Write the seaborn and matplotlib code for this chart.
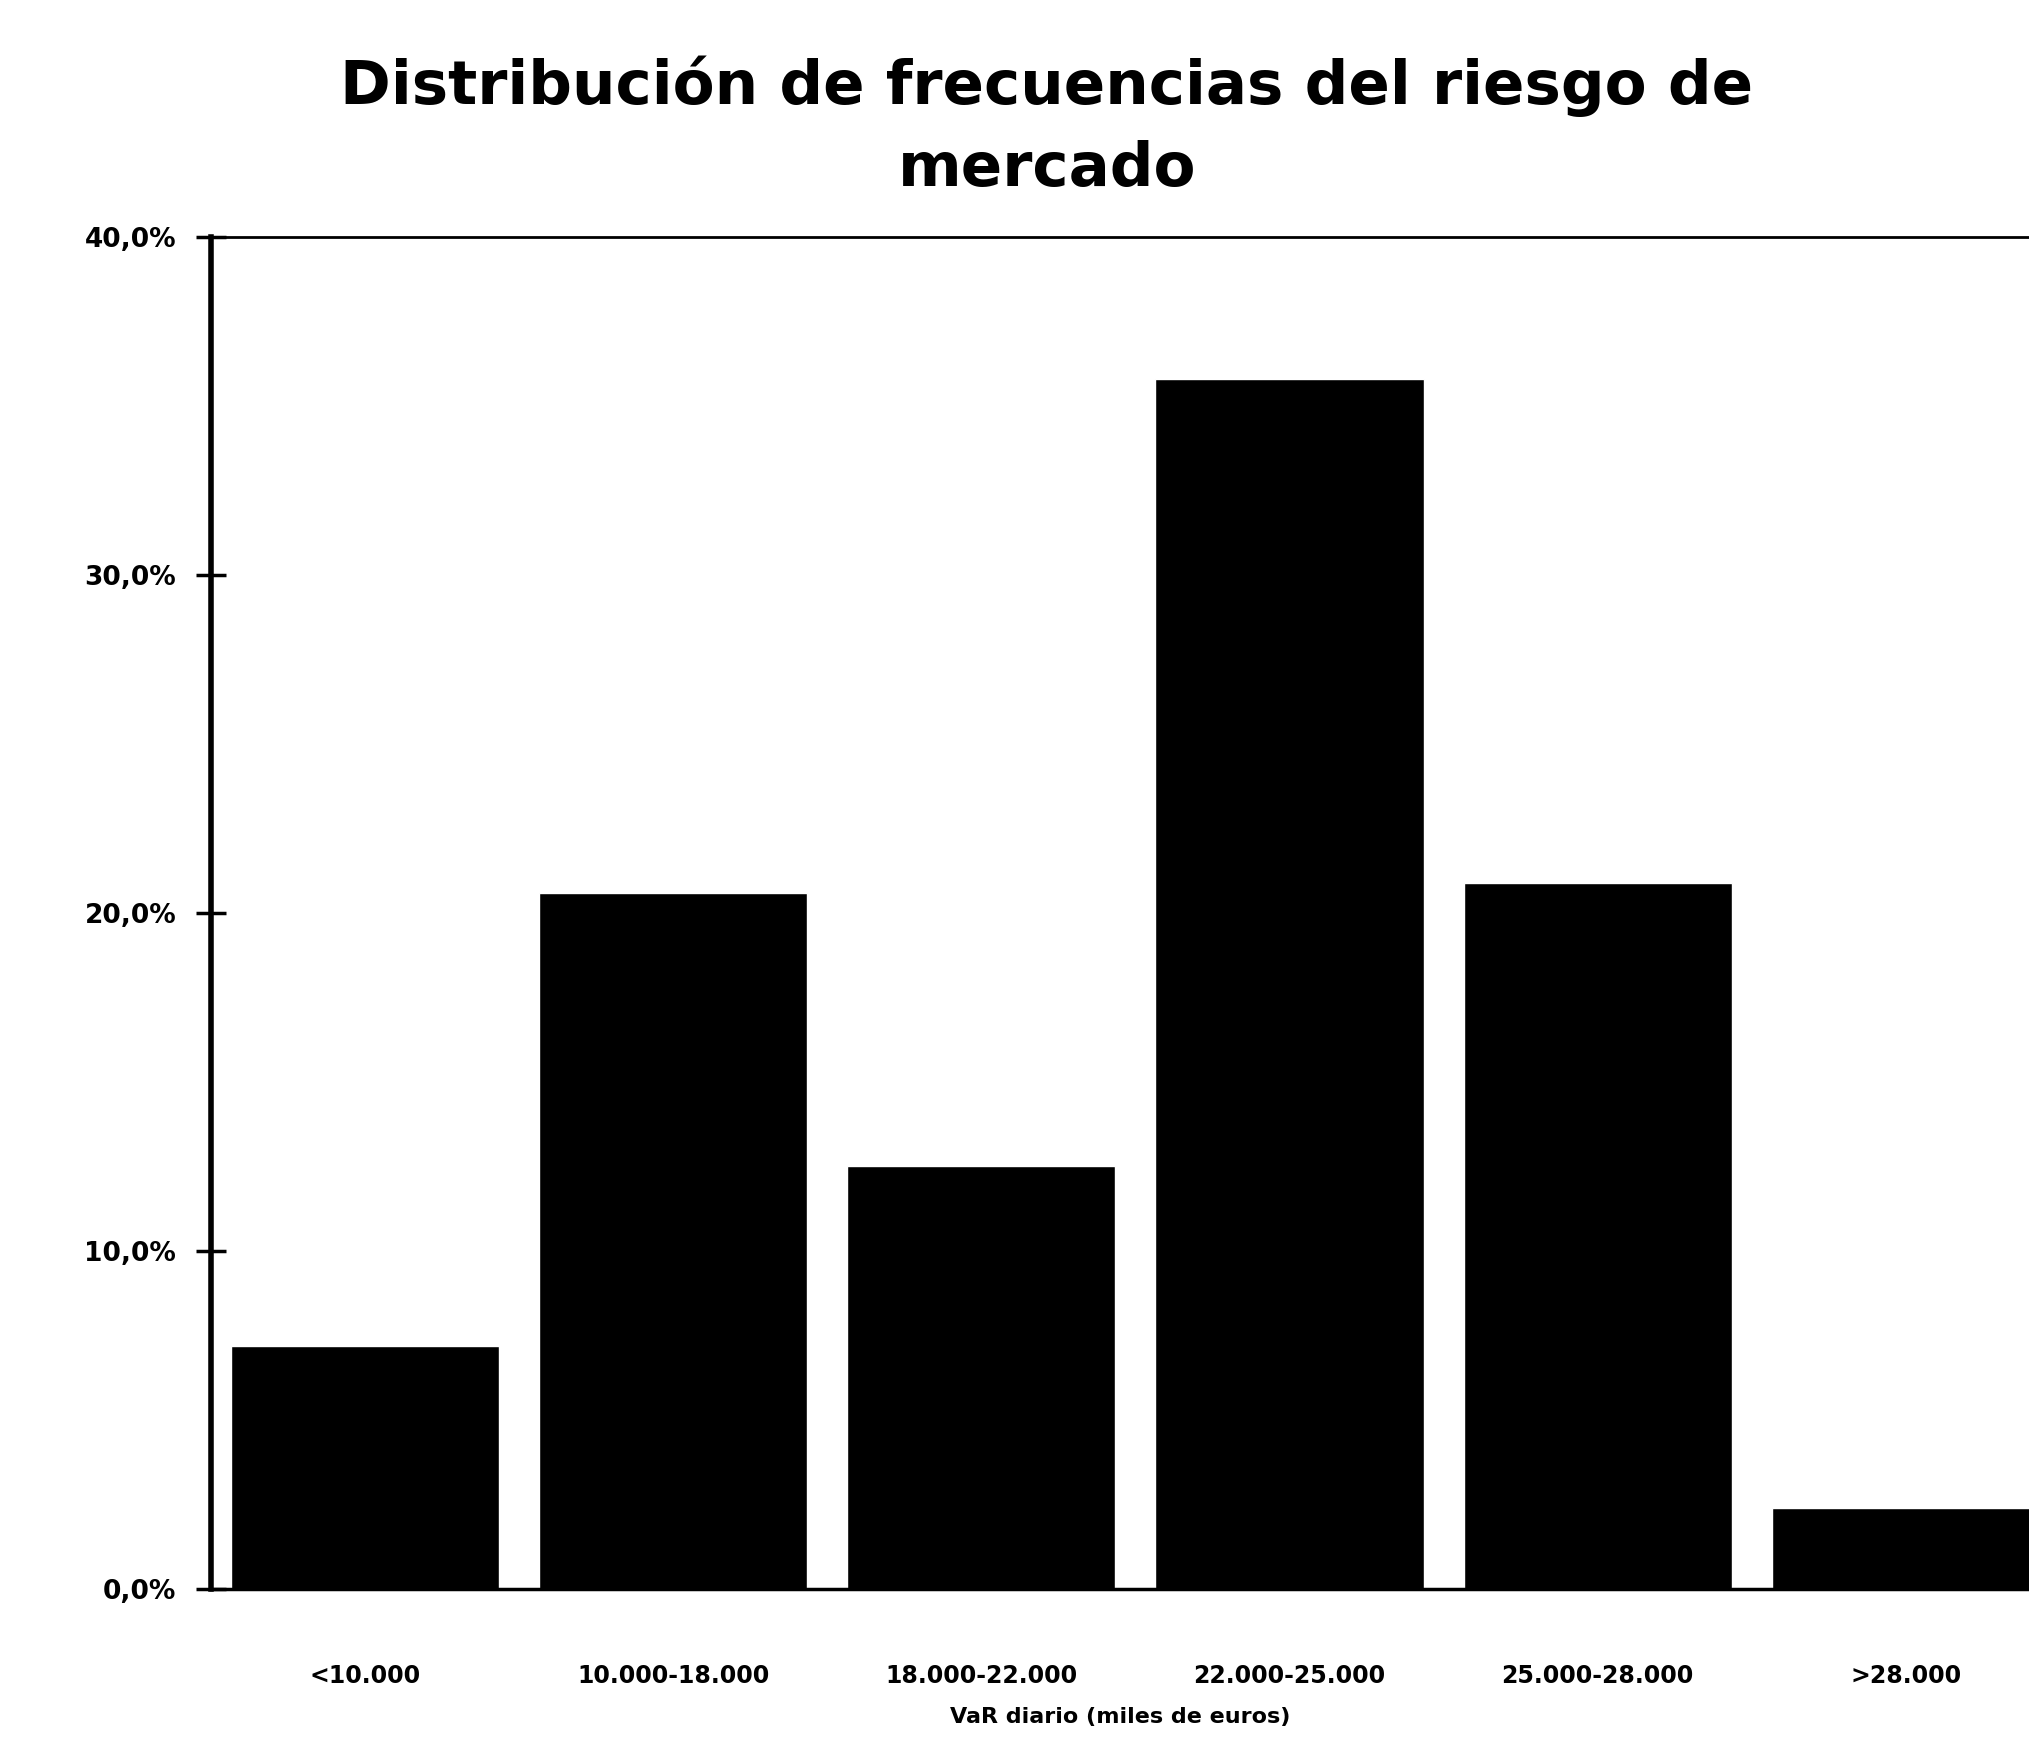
"""Distribución de frecuencias del riesgo de mercado (bar chart)."""

import matplotlib

matplotlib.use("Agg")

import matplotlib.pyplot as plt
import pandas as pd
import seaborn as sns
from matplotlib.ticker import FuncFormatter


categories = ["<10.000", "10.000-18.000", "18.000-22.000",
              "22.000-25.000", "25.000-28.000", ">28.000"]
frequencies = [7.2, 20.6, 12.5, 35.8, 20.9, 2.4]
y_ticks = [0, 10, 20, 30, 40]

title_text = "Distribución de frecuencias del riesgo de\nmercado"
x_label = "VaR diario (miles de euros)"

sns.set_theme(style="white", rc={
    "text.color": "black",
    "axes.labelcolor": "black",
    "xtick.color": "black",
    "ytick.color": "black",
    "ytick.left": True,
})
plt.rcParams["font.family"] = ["DejaVu Sans"]

data = pd.DataFrame({"rango": categories, "frecuencia": frequencies})

fig = plt.figure(figsize=(20.29, 17.39), dpi=100)
ax = fig.add_axes([0.104, 0.0863, 0.896, 0.7774])

sns.barplot(data=data, x="rango", y="frecuencia", color="black",
            saturation=1, width=0.87, ax=ax)

ax.set_xlim(-0.5, 5.4)
ax.set_ylim(0, 40)
ax.set_yticks(y_ticks)
ax.yaxis.set_major_formatter(
    FuncFormatter(lambda v, _: f"{v:.1f}%".replace(".", ","))
)

ax.tick_params(axis="y", left=True, direction="inout", length=22, width=2.5,
               labelsize=19, pad=14, color="black")
ax.tick_params(axis="x", bottom=False, length=0, labelsize=17, pad=54)
for label in ax.get_xticklabels() + ax.get_yticklabels():
    label.set_fontweight("bold")

ax.set_xlabel(x_label, fontsize=16, fontweight="bold", labelpad=14)
ax.set_ylabel("")

for side in ["left", "bottom", "top"]:
    ax.spines[side].set_visible(True)
    ax.spines[side].set_color("black")
ax.spines["left"].set_linewidth(4)
ax.spines["bottom"].set_linewidth(2.5)
ax.spines["top"].set_linewidth(2)
ax.spines["right"].set_visible(False)

fig.suptitle(title_text, x=0.516, y=0.968, va="top", fontsize=44,
             fontweight="heavy", linespacing=1.5)

fig.savefig("out.png", dpi=100)
plt.close(fig)
